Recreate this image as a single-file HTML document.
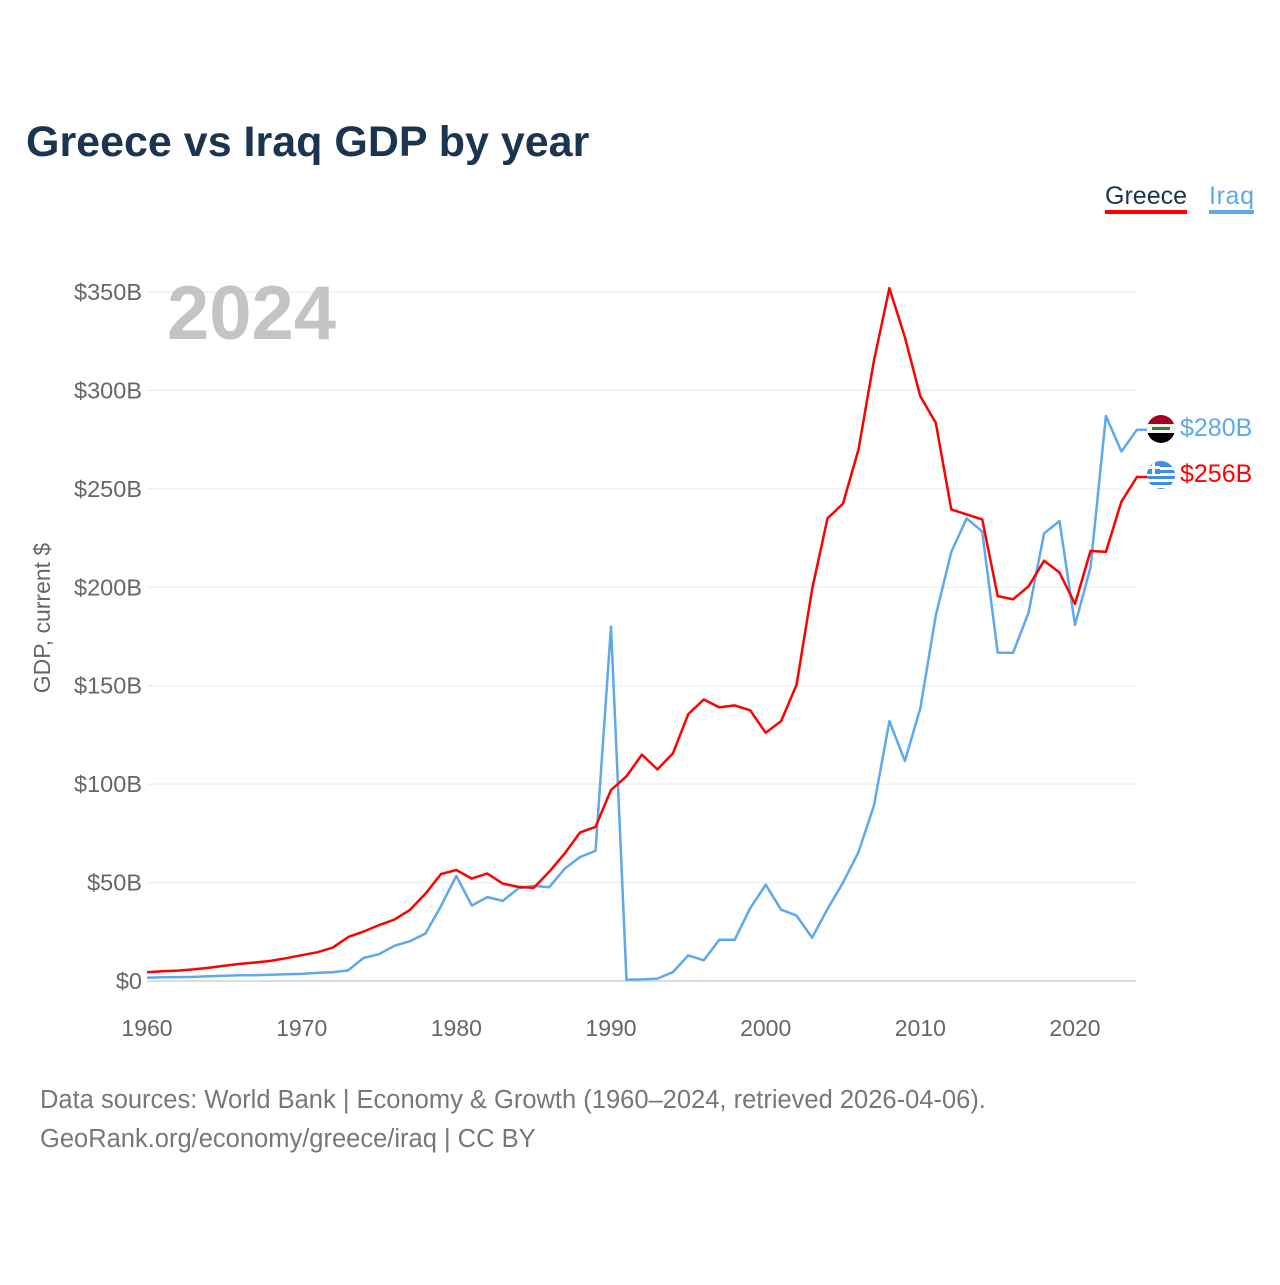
<!DOCTYPE html>
<html><head><meta charset="utf-8"><style>
body{margin:0;background:#fff;font-family:"Liberation Sans",sans-serif;}
svg text{font-family:"Liberation Sans",sans-serif;}
</style></head><body>
<svg width="1280" height="1280" viewBox="0 0 1280 1280" xmlns="http://www.w3.org/2000/svg">
<text x="26" y="156" font-size="43" font-weight="bold" fill="#1b3450">Greece vs Iraq GDP by year</text>
<g>
<text x="1105" y="204" font-size="25" fill="#1b3450" textLength="82">Greece</text>
<rect x="1105" y="210" width="82" height="4" fill="#ff0000"/>
<text x="1209" y="204" font-size="25" fill="#5ea8ec" textLength="45">Iraq</text>
<rect x="1209" y="210" width="45" height="4" fill="#5ea8ec"/>
</g>
<g id="grid"></g>
<text x="167" y="339" font-size="76" font-weight="bold" fill="#c4c4c4">2024</text>
<text transform="translate(50,618) rotate(-90)" text-anchor="middle" font-size="23" fill="#666">GDP, current $</text>
<g id="series"></g>
<g>
<g>
<clipPath id="c1"><circle cx="1161" cy="429" r="14"/></clipPath>
<g clip-path="url(#c1)"><rect x="1147" y="415" width="28" height="10" fill="#a50024"/><rect x="1147" y="424" width="28" height="10" fill="#f4f4f4"/><rect x="1147" y="433" width="28" height="10" fill="#000"/><rect x="1152" y="427" width="18" height="3" fill="#3a7a3a"/></g>
</g>
<text x="1180" y="436" font-size="25" fill="#5ea8ec">$280B</text>
<g>
<clipPath id="c2"><circle cx="1161" cy="475" r="14"/></clipPath>
<g clip-path="url(#c2)"><rect x="1147" y="461" width="28" height="28" fill="#3f8de8"/><rect x="1147" y="467" width="28" height="3" fill="#fff"/><rect x="1147" y="473" width="28" height="3" fill="#fff"/><rect x="1147" y="479" width="28" height="3" fill="#fff"/><rect x="1147" y="485" width="28" height="3" fill="#fff"/><rect x="1147" y="461" width="13" height="13" fill="#3f8de8"/><rect x="1152" y="461" width="3" height="13" fill="#fff"/><rect x="1147" y="466" width="13" height="3" fill="#fff"/></g>
</g>
<text x="1180" y="482" font-size="25" fill="#ff0000">$256B</text>
</g>
<text x="40" y="1108" font-size="25.5" fill="#777">Data sources: World Bank | Economy &amp; Growth (1960–2024, retrieved 2026-04-06).</text>
<text x="40" y="1147" font-size="25.5" fill="#777">GeoRank.org/economy/greece/iraq | CC BY</text>
</svg>
<script>
const years=[];for(let y=1960;y<=2024;y++)years.push(y);
const greece=[4.4,5.0,5.3,5.9,6.7,7.7,8.7,9.4,10.2,11.6,13.1,14.6,16.9,22.3,25.1,28.4,31.2,36.1,44.3,54.3,56.4,52.0,54.6,49.5,47.8,47.3,55.4,64.7,75.5,78.3,97.0,104.0,115.0,107.5,115.6,135.6,143.0,139.0,140.0,137.5,126.1,132.0,150.5,199.0,235.0,242.5,270.0,315.0,352.0,327.0,297.0,283.5,239.5,237.0,234.5,195.5,193.9,200.5,213.5,207.5,191.5,218.5,218.0,243.5,256.0];
const iraq=[1.7,1.9,2.0,2.1,2.4,2.7,2.9,2.9,3.2,3.4,3.6,4.1,4.4,5.4,11.7,13.6,17.9,20.2,24.1,38.0,53.4,38.3,42.6,40.7,47.0,48.3,47.6,57.0,63.0,66.1,180.0,0.6,0.8,1.2,4.5,13.0,10.5,21.0,21.0,37.0,48.9,36.2,33.2,22.0,36.6,50.0,65.5,89.0,132.0,111.7,138.5,185.7,218.0,235.0,228.4,166.8,166.7,187.2,227.4,233.6,180.9,210.0,287.0,269.0,280.0];
const yTicks=[0,50,100,150,200,250,300,350];
const yTickLabels=["$0","$50B","$100B","$150B","$200B","$250B","$300B","$350B"];
const xTicks=[1960,1970,1980,1990,2000,2010,2020];
const NS="http://www.w3.org/2000/svg";
const X=y=>147+(y-1960)*(928/60);
const Y=v=>981-v*(689/350);
const grid=document.getElementById('grid');
yTicks.forEach((t,i)=>{
 const l=document.createElementNS(NS,'line');
 l.setAttribute('x1',147);l.setAttribute('x2',1136);l.setAttribute('y1',Y(t));l.setAttribute('y2',Y(t));
 l.setAttribute('stroke',t===0?'#dddddd':'#e8e8e8');l.setAttribute('stroke-width',t===0?2:1);
 
 
 grid.appendChild(l);
 const tx=document.createElementNS(NS,'text');
 tx.setAttribute('x',142);tx.setAttribute('y',Y(t)+8);tx.setAttribute('text-anchor','end');
 tx.setAttribute('font-size','23.5');tx.setAttribute('fill','#666');tx.textContent=yTickLabels[i];
 
 
 grid.appendChild(tx);
});
xTicks.forEach(t=>{
 const tx=document.createElementNS(NS,'text');
 tx.setAttribute('x',X(t));tx.setAttribute('y',1036);tx.setAttribute('text-anchor','middle');
 tx.setAttribute('font-size','23');tx.setAttribute('fill','#666');tx.textContent=t;
 
 
 grid.appendChild(tx);
});
const ser=document.getElementById('series');
function line(vals,color,name){
 let d=vals.map((v,i)=>(i?'L':'M')+X(years[i]).toFixed(1)+','+Y(v).toFixed(1)).join(' ');
 d+=' L1147,'+Y(vals[vals.length-1]).toFixed(1);
 const p=document.createElementNS(NS,'path');
 p.setAttribute('d',d);p.setAttribute('fill','none');p.setAttribute('stroke',color);
 p.setAttribute('stroke-width','2.5');p.setAttribute('stroke-linejoin','round');
 
 
 ser.appendChild(p);
}
line(iraq,'#5ea8ec','iraq-line');
line(greece,'#ff0000','greece-line');
</script>
</body></html>
